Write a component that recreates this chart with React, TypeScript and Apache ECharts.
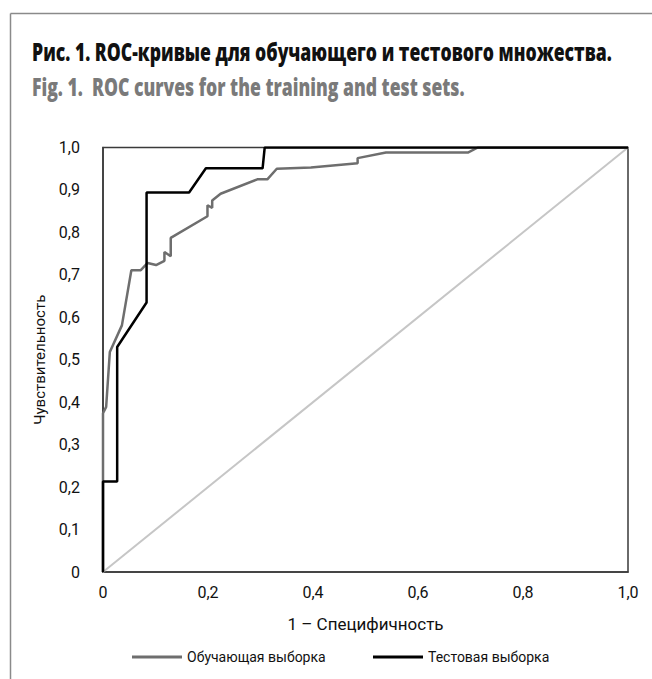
import React, { useEffect, useRef } from "react";
import * as echarts from "echarts";

const titleRu = "Рис. 1. ROC-кривые для обучающего и тестового множества.";
const titleEn = "Fig. 1.  ROC curves for the training and test sets.";
const xAxisName = "1 – Специфичность";
const yAxisName = "Чувствительность";
const trainName = "Обучающая выборка";
const testName = "Тестовая выборка";

// [1 - specificity, sensitivity]
const trainFpr = [0, 0, 0.006, 0.013, 0.036, 0.054, 0.072, 0.085, 0.101, 0.117, 0.117, 0.129, 0.129, 0.199, 0.199, 0.208, 0.208, 0.224, 0.294, 0.313, 0.331, 0.396, 0.485, 0.485, 0.539, 0.695, 0.714, 1.0];
const trainTpr = [0, 0.374, 0.389, 0.518, 0.581, 0.711, 0.711, 0.728, 0.723, 0.733, 0.754, 0.744, 0.787, 0.838, 0.864, 0.858, 0.875, 0.891, 0.925, 0.925, 0.95, 0.953, 0.963, 0.975, 0.988, 0.988, 1.0, 1.0];
const testFpr = [0, 0, 0.027, 0.027, 0.083, 0.083, 0.164, 0.196, 0.304, 0.308, 1.0];
const testTpr = [0, 0.213, 0.213, 0.53, 0.635, 0.894, 0.894, 0.951, 0.951, 1.0, 1.0];
const diagX = [0, 1];
const diagY = [0, 1];

const narrow = "Roboto, 'Liberation Sans Narrow', sans-serif";

function fmt(v: number): string {
  if (v === 0) return "0";
  return v.toFixed(1).replace(".", ",");
}

function fitScale(text: string, font: string, target: number): number {
  const ctx = document.createElement("canvas").getContext("2d");
  if (!ctx) return 1;
  ctx.font = font;
  const w = ctx.measureText(text).width;
  return w > 0 ? target / w : 1;
}

export default function App() {
  const ref = useRef<HTMLDivElement>(null);
  useEffect(() => {
    if (!ref.current) return;
    const chart = echarts.init(ref.current, undefined, { renderer: "svg" });
    const titleFont = "800 25px 'Open Sans', sans-serif";
    const s1 = fitScale(titleRu, titleFont, 580);
    const s2 = fitScale(titleEn, titleFont, 433);
    const zip = (a: number[], b: number[]) => a.map((v, i) => [v, b[i]]);
    const legendText = { fontFamily: narrow, fontSize: 14, color: "#111" };
    chart.setOption({
      animation: false,
      backgroundColor: "#fff",
      grid: { left: 103, right: 24, top: 147.5, bottom: 107, show: true, borderColor: "#3a3a3a", borderWidth: 1.5 },
      xAxis: {
        type: "value", min: 0, max: 1, interval: 0.2,
        name: xAxisName, nameLocation: "middle", nameGap: 43,
        nameTextStyle: { fontFamily: narrow, fontSize: 17, color: "#111" },
        axisLine: { show: true, lineStyle: { color: "#3a3a3a", width: 1.5 } },
        axisTick: { show: false }, splitLine: { show: false },
        axisLabel: { formatter: fmt, fontFamily: narrow, fontSize: 16, color: "#111", margin: 12 },
      },
      yAxis: {
        type: "value", min: 0, max: 1, interval: 0.1,
        name: yAxisName, nameLocation: "middle", nameGap: 52,
        nameTextStyle: { fontFamily: narrow, fontSize: 15, color: "#111" },
        axisLine: { show: true, lineStyle: { color: "#3a3a3a", width: 1.5 } },
        axisTick: { show: false }, splitLine: { show: false },
        axisLabel: { formatter: fmt, fontFamily: narrow, fontSize: 16, color: "#111", margin: 23 },
      },
      legend: [
        { data: [trainName], left: 127, top: 645, icon: "rect", itemWidth: 50, itemHeight: 3, textStyle: legendText },
        { data: [testName], left: 368, top: 645, icon: "rect", itemWidth: 50, itemHeight: 3, textStyle: legendText },
      ],
      graphic: [
        { type: "line", shape: { x1: 10.5, y1: 13.5, x2: 652, y2: 13.5 }, style: { stroke: "#8a8a8a", lineWidth: 1.5 } },
        { type: "line", shape: { x1: 10.5, y1: 13.5, x2: 10.5, y2: 679 }, style: { stroke: "#8a8a8a", lineWidth: 1.5 } },
        { type: "text", x: 32, y: 51, scaleX: s1, style: { text: titleRu, font: titleFont, fill: "#111", verticalAlign: "middle" } },
        { type: "text", x: 32, y: 86, scaleX: s2, style: { text: titleEn, font: titleFont, fill: "#7a7a7a", verticalAlign: "middle" } },
      ],
      series: [
        { type: "line", name: "diag", data: zip(diagX, diagY), symbol: "none", lineStyle: { color: "#c6c6c6", width: 2 }, silent: true },
        { type: "line", name: trainName, data: zip(trainFpr, trainTpr), symbol: "none", itemStyle: { color: "#6e6e6e" }, lineStyle: { color: "#6e6e6e", width: 2.5 } },
        { type: "line", name: testName, data: zip(testFpr, testTpr), symbol: "none", itemStyle: { color: "#000" }, lineStyle: { color: "#000", width: 2.5 } },
      ],
    });
    return () => chart.dispose();
  }, []);
  return <div ref={ref} style={{ position: "fixed", left: 0, top: 0, width: 652, height: 679 }} />;
}
